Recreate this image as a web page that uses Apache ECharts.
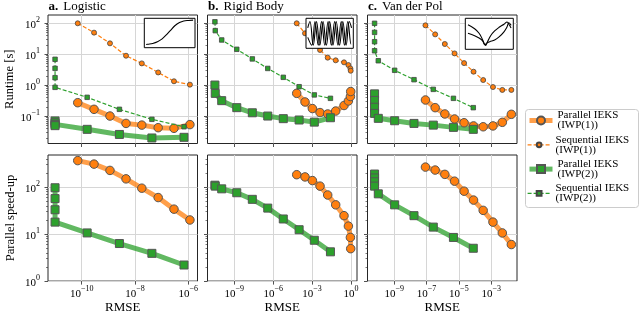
<!DOCTYPE html>
<html><head><meta charset="utf-8">
<script src="https://cdn.jsdelivr.net/npm/echarts@6/dist/echarts.min.js"></script>
<style>html,body{margin:0;padding:0;background:#fff}#c{width:640px;height:315px}</style>
</head><body><div id="c"></div><script>
// ---------- data ----------
const seriesNames = ['Parallel IEKS (IWP(1))', 'Sequential IEKS (IWP(1))', 'Parallel IEKS (IWP(2))', 'Sequential IEKS (IWP(2))'];
const panelLetters = ['a.', 'b.', 'c.'];
const panelNames = ['Logistic', 'Rigid Body', 'Van der Pol'];
const yNameTop = 'Runtime [s]';
const yNameBottom = 'Parallel speed-up';
const xName = 'RMSE';
const runtimeTicks = [1e-1, 1, 10, 100];
const speedupTicks = [1, 10, 100];
const rmseTicksA = [1e-10, 1e-8, 1e-6];
const rmseTicksB = [1e-9, 1e-6, 1e-3, 1];
const rmseTicksC = [1e-9, 1e-7, 1e-5, 1e-3];

// a. Logistic
const aRmse1 = [7.1e-11, 2.9e-10, 1.15e-9, 4.6e-9, 1.8e-8, 7.4e-8, 2.9e-7, 1.15e-6];
const aPar1 = [0.275, 0.168, 0.102, 0.059, 0.052, 0.043, 0.041, 0.054];
const aSeq1 = [100, 50, 22.6, 9.0, 5.1, 2.6, 1.35, 1.05];
const aSpeed1 = [367, 309, 227, 150, 95, 60, 34, 20];
const aRmse2 = [1.0e-11, 1.0e-11, 1.0e-11, 1.0e-11, 1.6e-10, 2.6e-9, 4.3e-8, 6.9e-7];
const aPar2 = [0.071, 0.062, 0.055, 0.050, 0.038, 0.026, 0.020, 0.021];
const aSeq2 = [6.9, 3.53, 1.76, 0.86, 0.41, 0.168, 0.080, 0.046];
const aSpeed2 = [97, 57, 33, 18, 10.6, 6.3, 3.9, 2.2];

// b. Rigid Body
const bRmse1 = [6.5e-5, 2.85e-4, 1.05e-3, 4.1e-3, 1.6e-2, 6.6e-2, 0.29, 0.63, 0.9, 0.95];
const bPar1 = [0.55, 0.29, 0.178, 0.132, 0.119, 0.148, 0.223, 0.312, 0.435, 0.63];
const bSeq1 = [100, 47.6, 25, 13.8, 7.8, 6.4, 5.5, 4.5, 3.5, 2.95];
const bSpeed1 = [184, 165, 138, 105, 68, 42, 24.7, 14.8, 8.5, 4.9];
const bRmse2 = [3.2e-11, 3.4e-11, 1.07e-10, 1.55e-9, 2.45e-8, 3.8e-7, 6.0e-6, 1.0e-4, 1.48e-3, 2.6e-2];
const bPar2 = [1.02, 0.55, 0.32, 0.19, 0.13, 0.102, 0.084, 0.076, 0.065, 0.090];
const bSeq2 = [112, 58, 29, 14.5, 7.1, 3.5, 1.81, 0.90, 0.49, 0.38];
const bSpeed2 = [110, 105, 92, 76, 55, 35.8, 21, 12.4, 7.4, 4.2];

// c. Van der Pol
const cRmse1 = [8.5e-8, 3.4e-7, 1.35e-6, 5.4e-6, 2.1e-5, 8.1e-5, 3.2e-4, 1.29e-3, 4.9e-3, 1.78e-2];
const cPar1 = [0.336, 0.19, 0.119, 0.082, 0.062, 0.049, 0.046, 0.049, 0.064, 0.116];
const cSeq1 = [86, 44, 21.5, 10.7, 5.2, 2.75, 1.48, 0.88, 0.71, 0.71];
const cSpeed1 = [267, 231, 187, 134, 82, 53, 32, 18, 10.6, 6.0];
const cRmse2 = [6.0e-11, 6.0e-11, 6.0e-11, 6.0e-11, 1.02e-10, 1.05e-9, 1.66e-8, 2.6e-7, 4.6e-6, 7.8e-5];
const cPar2 = [0.53, 0.325, 0.196, 0.124, 0.086, 0.072, 0.059, 0.052, 0.044, 0.038];
const cSeq2 = [100, 51, 25.5, 13, 6.2, 3.05, 1.52, 0.74, 0.38, 0.19];
const cSpeed2 = [190, 157, 130, 105, 72, 42, 24.7, 14.1, 8.5, 5.0];

// inset solution curves (normalised time, normalised state)
const insetAx = [0.0, 0.03, 0.14, 0.24, 0.34, 0.44, 0.52, 0.61, 0.71, 0.80, 0.90, 1.0];
const insetAy = [0.07, 0.08, 0.11, 0.17, 0.28, 0.45, 0.60, 0.77, 0.89, 0.95, 0.97, 0.98];
const insetB1x = [0.0, 0.05, 0.125, 0.2, 0.275, 0.35, 0.425, 0.5, 0.575, 0.65, 0.725, 0.8, 0.875, 0.95, 1.0];
const insetB1y = [0.7, 0.93, 0.06, 0.93, 0.06, 0.93, 0.06, 0.93, 0.06, 0.93, 0.06, 0.93, 0.06, 0.93, 0.7];
const insetB2x = [0.0, 0.09, 0.165, 0.24, 0.315, 0.39, 0.465, 0.54, 0.615, 0.69, 0.765, 0.84, 0.915, 0.99, 1.0];
const insetB2y = [0.35, 0.06, 0.93, 0.06, 0.93, 0.06, 0.93, 0.06, 0.93, 0.06, 0.93, 0.06, 0.93, 0.1, 0.12];
const insetC1x = [0.02, 0.17, 0.27, 0.34, 0.39, 0.42, 0.46, 0.53, 0.62, 0.72, 0.83, 0.90, 0.94, 0.99];
const insetC1y = [0.82, 0.68, 0.52, 0.32, 0.14, 0.09, 0.22, 0.43, 0.60, 0.73, 0.84, 0.92, 0.84, 0.71];
const insetC2x = [0.02, 0.17, 0.27, 0.35, 0.40, 0.44, 0.51, 0.62, 0.72, 0.83, 0.90, 0.94, 0.99];
const insetC2y = [0.52, 0.43, 0.35, 0.25, 0.11, 0.17, 0.22, 0.28, 0.39, 0.57, 0.75, 0.89, 0.80];

// ---------- layout & style ----------
const FONT = 'Liberation Serif';
const ORANGE = '#ff7f0e', GREEN = '#2ca02c';
const colLeft = [48, 207.5, 367.5], colWidth = 149.5;
const rowTop = [15, 155], rowHeight = [128.5, 128.3];
const xExtLog = [[-11.265, -5.655], [-11.067, 0.463], [-10.66, -1.40]];
const yExtLog = [[-1.877, 2.268], [0, 2.684]];
const xTicks = [rmseTicksA, rmseTicksB, rmseTicksC];
const insetBox = [[144.3, 18.3, 50.7, 29.4], [306, 18.3, 47.3, 30], [465.3, 18.3, 48, 31]];

const cols = [
  {r1: aRmse1, p1: aPar1, s1: aSeq1, sp1: aSpeed1, r2: aRmse2, p2: aPar2, s2: aSeq2, sp2: aSpeed2},
  {r1: bRmse1, p1: bPar1, s1: bSeq1, sp1: bSpeed1, r2: bRmse2, p2: bPar2, s2: bSeq2, sp2: bSpeed2},
  {r1: cRmse1, p1: cPar1, s1: cSeq1, sp1: cSpeed1, r2: cRmse2, p2: cPar2, s2: cSeq2, sp2: cSpeed2}
];
const insets = [
  [[insetAx, insetAy]],
  [[insetB1x, insetB1y], [insetB2x, insetB2y]],
  [[insetC1x, insetC1y], [insetC2x, insetC2y]]
];

const rich = {
  b: {fontFamily: FONT, fontSize: 11, lineHeight: 15, verticalAlign: 'bottom', color: '#000'},
  s: {fontFamily: FONT, fontSize: 8, lineHeight: 9, verticalAlign: 'top', color: '#000'}
};
function pow10Label(v) {
  const e = Math.round(Math.log10(v));
  return '{b|10}{s|' + String(e).replace('-', '\u2212') + '}';
}
function minorVals(lo, hi) {
  const out = [];
  for (let n = Math.floor(lo) - 1; n <= Math.ceil(hi); n++) {
    for (let k = 2; k <= 9; k++) {
      const v = k * Math.pow(10, n), l = Math.log10(v);
      if (l > lo && l < hi) out.push(v);
    }
  }
  return out;
}
const pair = (xs, ys) => xs.map((x, i) => [x, ys[i]]);

const grids = [], xAxes = [], yAxes = [], series = [], titles = [];
const tickStyle = {color: '#262626', width: 0.8};

for (let c = 0; c < 3; c++) {
  titles.push({
    left: colLeft[c] + 0.5, top: -2, padding: 0,
    text: '{b|' + panelLetters[c] + '} {n|' + panelNames[c] + '}',
    textStyle: {fontWeight: 'normal', rich: {
      b: {fontFamily: FONT, fontWeight: 'bold', fontSize: 13, color: '#000'},
      n: {fontFamily: FONT, fontWeight: 'normal', fontSize: 13, color: '#000'}
    }}
  });
  for (let r = 0; r < 2; r++) {
    const gi = grids.length;
    grids.push({left: colLeft[c], top: rowTop[r], width: colWidth, height: rowHeight[r],
      show: true, borderColor: '#262626', borderWidth: 1, backgroundColor: 'transparent'});
    const xi = xAxes.length;
    xAxes.push({
      type: 'log', logBase: 10, gridIndex: gi,
      min: Math.pow(10, xExtLog[c][0]), max: Math.pow(10, xExtLog[c][1]),
      axisLine: {show: false},
      axisTick: {show: true, customValues: xTicks[c], length: 3.5, lineStyle: tickStyle},
      axisLabel: {show: r === 1, customValues: xTicks[c], formatter: pow10Label, rich: rich, margin: 4},
      splitLine: {show: true, lineStyle: {color: '#d6d6d6', width: 1}},
      name: r === 1 ? xName : '', nameLocation: 'middle', nameGap: 19,
      nameTextStyle: {fontFamily: FONT, fontSize: 13, color: '#000'}
    });
    const yt = r === 0 ? runtimeTicks : speedupTicks;
    const yi = yAxes.length;
    yAxes.push({
      type: 'log', logBase: 10, gridIndex: gi, position: 'left',
      min: Math.pow(10, yExtLog[r][0]), max: Math.pow(10, yExtLog[r][1]),
      axisLine: {show: false},
      axisTick: {show: true, customValues: yt, length: 3.5, lineStyle: tickStyle},
      axisLabel: {show: c === 0, customValues: yt, formatter: pow10Label, rich: rich, margin: 8},
      splitLine: {show: true, lineStyle: {color: '#d6d6d6', width: 1}},
      name: c === 0 ? (r === 0 ? yNameTop : yNameBottom) : '',
      nameLocation: 'middle', nameGap: 31, nameRotate: 90,
      nameTextStyle: {fontFamily: FONT, fontSize: 12.5, color: '#000'}
    });
    // minor ticks
    yAxes.push({
      type: 'log', logBase: 10, gridIndex: gi, position: 'left',
      min: Math.pow(10, yExtLog[r][0]), max: Math.pow(10, yExtLog[r][1]),
      axisLine: {show: false},
      axisTick: {show: true, customValues: minorVals(yExtLog[r][0], yExtLog[r][1]), length: 2, lineStyle: {color: '#262626', width: 0.6}},
      axisLabel: {show: false}, splitLine: {show: false}
    });
    const d = cols[c];
    const parStyle = (col, sym, name, xs, ys) => ({
      type: 'line', name: name, xAxisIndex: xi, yAxisIndex: yi, data: pair(xs, ys),
      symbol: sym, symbolSize: sym === 'circle' ? 8.5 : 8, showSymbol: true,
      lineStyle: {width: 5, color: col, opacity: 0.75},
      itemStyle: {color: col, borderColor: '#555', borderWidth: 1},
      z: 3
    });
    const seqStyle = (col, sym, name, xs, ys) => ({
      type: 'line', name: name, xAxisIndex: xi, yAxisIndex: yi, data: pair(xs, ys),
      symbol: sym, symbolSize: sym === 'circle' ? 5 : 4.5, showSymbol: true,
      lineStyle: {width: 1.2, color: col, type: [4, 2]},
      itemStyle: {color: col, borderColor: '#444', borderWidth: 0.8},
      z: 4
    });
    if (r === 0) {
      series.push(parStyle(ORANGE, 'circle', seriesNames[0], d.r1, d.p1));
      series.push(seqStyle(ORANGE, 'circle', seriesNames[1], d.r1, d.s1));
      series.push(parStyle(GREEN, 'rect', seriesNames[2], d.r2, d.p2));
      series.push(seqStyle(GREEN, 'rect', seriesNames[3], d.r2, d.s2));
    } else {
      series.push(parStyle(ORANGE, 'circle', seriesNames[0], d.r1, d.sp1));
      series.push(parStyle(GREEN, 'rect', seriesNames[2], d.r2, d.sp2));
    }
  }
  // inset
  const b = insetBox[c];
  const gi = grids.length;
  grids.push({left: b[0], top: b[1], width: b[2], height: b[3], show: true,
    borderColor: '#000', borderWidth: 1, backgroundColor: '#fff', z: 5});
  const xi = xAxes.length, yi = yAxes.length;
  xAxes.push({type: 'value', gridIndex: gi, min: -0.04, max: 1.04, show: false});
  yAxes.push({type: 'value', gridIndex: gi, min: -0.05, max: 1.05, show: false});
  insets[c].forEach(cv => series.push({
    type: 'line', xAxisIndex: xi, yAxisIndex: yi, data: pair(cv[0], cv[1]),
    showSymbol: false, symbol: 'none', smooth: 0.4, silent: true,
    lineStyle: {color: '#000', width: 1.1}, z: 6
  }));
}

// one legend per entry so that each entry can have its own marker size
const legendTop0 = 110, legendStep = 24.3;
const legends = seriesNames.map((nm, i) => ({
  data: [nm], orient: 'vertical', left: 527, top: legendTop0 + i * legendStep,
  padding: 0, itemGap: 0, itemWidth: 23, itemHeight: i % 2 === 0 ? 10 : 6,
  selectedMode: false, z: 6,
  lineStyle: {width: i % 2 === 0 ? 5 : 1.2},
  textStyle: {fontFamily: FONT, fontSize: 11, lineHeight: 10, color: '#000'},
  formatter: n => n.replace(' (', '\n(')
}));

const chart = echarts.init(document.getElementById('c'), null, {renderer: 'canvas'});
chart.setOption({
  animation: false,
  backgroundColor: '#fff',
  title: titles,
  grid: grids, xAxis: xAxes, yAxis: yAxes, series: series,
  legend: legends,
  graphic: [{
    type: 'rect', z: 1,
    shape: {x: 525.5, y: 109.5, width: 113, height: 98, r: 3},
    style: {fill: '#fff', stroke: '#cccccc', lineWidth: 1}
  }]
});
</script></body></html>
